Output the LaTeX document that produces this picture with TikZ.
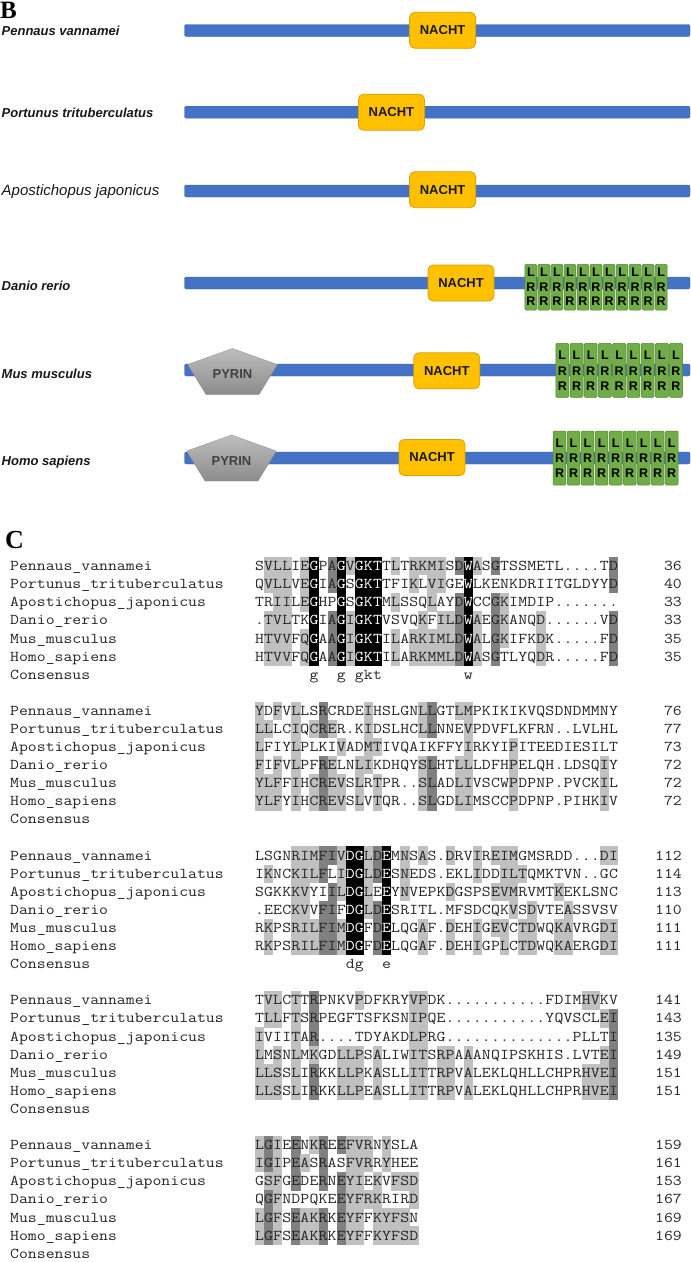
\documentclass[tikz,border=0pt]{standalone}
\usepackage{fontspec}
\usepackage{graphicx}
\newfontfamily\lsans{Liberation Sans}
\newfontfamily\lserif{Liberation Serif}
\definecolor{barblue}{HTML}{4472C4}
\definecolor{barline}{HTML}{3A62AD}
\definecolor{nachtfill}{HTML}{FFC000}
\definecolor{nachtline}{HTML}{D9A300}
\definecolor{lrrfill}{HTML}{70AD47}
\definecolor{lrrline}{HTML}{548235}
\definecolor{pyrtop}{HTML}{BEBEBE}
\definecolor{pyrbot}{HTML}{8C8C8C}
\definecolor{lgc}{HTML}{C0C0C0}
\definecolor{dgc}{HTML}{808080}
\definecolor{seqtext}{HTML}{262626}
\newcommand\seqf{\ttfamily\fontsize{15}{15}\selectfont}
\newcommand\sx[1]{\scalebox{1.152}[1]{#1}}
\newcount\shcol \newcount\blkn \newcount\rown
\def\seqrow#1#2#3#4{\blkn=#1\relax\rown=#2\relax\shcol=0\relax
  \pgfmathsetmacro\celly{566+144.75*#1+18.1*#2}%
  \cellloop#3\relax\end#4..........\relax\end}
\def\cellloop#1#2\end#3#4\end{%
  \ifx#1\relax\else
    \onecell{#1}{#3}%
    \advance\shcol by 1\relax
    \cellloop#2\end#4\end
  \fi}
\def\onecell#1#2{%
  \pgfmathsetmacro\cellx{255+9.075*\the\shcol}%
  \if#2l\fill[lgc] (\cellx,\celly-9.05) rectangle ++(9.3,18.35);\fi
  \if#2d\fill[dgc] (\cellx,\celly-9.05) rectangle ++(9.3,18.35);\fi
  \if#2k\fill[black] (\cellx,\celly-9.05) rectangle ++(9.3,18.35);%
    \node[chw] (q\the\blkn-\the\rown-\the\shcol) at (\cellx+4.54,\celly+4.6) {\sx{#1}};%
  \else
    \node[ch] (q\the\blkn-\the\rown-\the\shcol) at (\cellx+4.54,\celly+4.6) {\sx{#1}};%
  \fi}
\newcommand\blocklabels[7]{%
  \foreach \nm [count=\rr from 0] in {Pennaus\_vannamei,Portunus\_trituberculatus,Apostichopus\_japonicus,Danio\_rerio,Mus\_musculus,Homo\_sapiens,Consensus}{%
    \node[nmst] (nm#1-\rr) at (10,{566+144.75*#1+18.1*\rr+4.6}) {\sx{\nm}};}
  \foreach \v [count=\rr from 0] in {#2,#3,#4,#5,#6,#7}{%
    \node[numst] (num#1-\rr) at (682,{566+144.75*#1+18.1*\rr+4.6}) {\sx{\v}};}}
\newcommand\consch[4]{% name block col char
  \node[ch] (#1) at ({255+9.075*#3+4.54},{566+144.75*#2+18.1*6+4.6}) {\sx{#4}};}
\newcommand\lrrbox[8]{%
  \pgfmathsetmacro\lrrw{(#3-#2)/#4}%
  \foreach \i in {1,...,#4}{%
    \pgfmathsetmacro\lrrx{#2+(\i-1)*\lrrw}%
    \draw[tileshape] (\lrrx+0.6,#5) rectangle (\lrrx+\lrrw-0.6,#6);
    \node[lrrtxt] (#1a\i) at (\lrrx+\lrrw/2,#7) {L};
    \node[lrrtxt] (#1b\i) at (\lrrx+\lrrw/2,#7+#8) {R};
    \node[lrrtxt] (#1c\i) at (\lrrx+\lrrw/2,#7+2*#8) {R};
  }}
\newcommand\pyrin[3]{%
  \shadedraw[top color=pyrtop, bottom color=pyrbot, draw=pyrbot, line width=0.3pt]
    (#2,#3) -- (#2+44.8,#3+16) -- (#2+26.5,#3+46) -- (#2-26.5,#3+46) -- (#2-44.8,#3+16) -- cycle;
  \node[pyrtxt] (#1) at (#2,#3+25.6) {PYRIN};}
\tikzset{
  ch/.style={anchor=base, inner sep=0pt, outer sep=0pt, font=\seqf, text=seqtext},
  chw/.style={ch, text=white},
  nmst/.style={anchor=base west, inner sep=0pt, font=\seqf, text=seqtext},
  numst/.style={anchor=base east, inner sep=0pt, font=\seqf, text=seqtext},
  bar/.style={fill=barblue, draw=barline, line width=0.4pt, rounded corners=2pt},
  nacht/.style={draw=nachtline, fill=nachtfill, line width=0.8pt, rounded corners=5pt,
    minimum width=66pt, minimum height=36pt, inner sep=0pt,
    font=\lsans\bfseries\fontsize{13}{13}\selectfont, text=black!90},
  tileshape/.style={fill=lrrfill, draw=lrrline, line width=0.5pt, rounded corners=1.2pt},
  lrrtxt/.style={inner sep=0pt, font=\lsans\bfseries\fontsize{12.5}{12.5}\selectfont, text=black},
  spec/.style={anchor=base west, inner sep=0pt, font=\lsans\bfseries\itshape\fontsize{13}{13}\selectfont, text=black!90},
  specreg/.style={anchor=base west, inner sep=0pt, font=\lsans\itshape\fontsize{15}{15}\selectfont, text=black!90},
  pyrtxt/.style={inner sep=0pt, font=\lsans\bfseries\fontsize{13}{13}\selectfont, text=black!75},
  panel/.style={anchor=base west, inner sep=0pt, font=\lserif\bfseries}
}
\begin{document}
\begin{tikzpicture}[x=1pt,y=-1pt]
\fill[white] (0,0) rectangle (691,1262);
\useasboundingbox (0,0) rectangle (691,1262);
% ---------------- Panel B ----------------
\node[panel, font=\lserif\bfseries\fontsize{25}{25}\selectfont] (labB) at (0,18.5) {B};
\node[spec] (sp1) at (1.5,35.7) {Pennaus vannamei};
\node[spec] (sp2) at (1.5,117.2) {Portunus trituberculatus};
\node[specreg] (sp3) at (1.5,195.2) {Apostichopus japonicus};
\node[spec] (sp4) at (1.5,290.7) {Danio rerio};
\node[spec] (sp5) at (1.5,378.5) {Mus musculus};
\node[spec] (sp6) at (1.5,465.3) {Homo sapiens};
\draw[bar] (184.5,24.5) rectangle (690,36.5);
\draw[bar] (184.5,106.2) rectangle (690,118.2);
\draw[bar] (184.5,185) rectangle (690,197);
\draw[bar] (184.5,277) rectangle (690,289);
\draw[bar] (184.5,364) rectangle (690,376);
\draw[bar] (184.5,452) rectangle (690,464);
\node[nacht] (n1) at (442.6,30.3) {NACHT};
\node[nacht] (n2) at (391.4,112.2) {NACHT};
\node[nacht] (n3) at (442.6,189.7) {NACHT};
\node[nacht] (n4) at (461,283) {NACHT};
\node[nacht] (n5) at (446.8,370.8) {NACHT};
\node[nacht] (n6) at (432,457.5) {NACHT};
\pyrin{pyr5}{232.5}{348.5}
\pyrin{pyr6}{231.5}{435}
\lrrbox{dr}{524.3}{667.7}{11}{264.3}{310}{272.5}{14.2}
\lrrbox{mm}{555.2}{683.1}{9}{343.3}{397.3}{355.5}{15.2}
\lrrbox{hs}{552.5}{678.7}{9}{431}{485}{443}{15.2}
% ---------------- Panel C ----------------
\node[panel, font=\lserif\bfseries\fontsize{26}{26}\selectfont] (labC) at (5,548) {C};
% block 1
\seqrow{0}{0}{SVLLIEGPAGVGKTTLTRKMISDWASGTSSMETL....TD}{.lll.lk.dk lkkk.l.lll l.dkl.d... .........d}
\seqrow{0}{1}{QVLLVEGIAGSGKTTFIKLVIGEWLKENKDRIITGLDYYD}{.lll.lk.dk .kkk...l.l l..k...... .........d}
\seqrow{0}{2}{TRIILEGHPGSGKTMLSSQLAYDWCCGKIMDIP.......}{..ll.lk..k .kkk.l...l ..dk..dl.. ..........}
\seqrow{0}{3}{.TVLTKGIAGIGKTVSVQKFILDWAEGKANQD......VD}{.lll..k.dk lkkk....l. lldkl.dl.. .l.......d}
\seqrow{0}{4}{HTVVFQGAAGIGKTILARKIMLDWALGKIFKDK.....FD}{.lll.lk.dk lkkk.l.lll lldkl.dl.. .l.......d}
\seqrow{0}{5}{HTVVFQGAAGIGKTILARKMMLDWASGTLYQDR.....FD}{.lll.lk.dk lkkk.l.lll lldkl.d... .l.......d}
\blocklabels{0}{36}{40}{33}{33}{35}{35}
\consch{c0a}{0}{6}{g}\consch{c0b}{0}{9}{g}\consch{c0c}{0}{11}{g}\consch{c0d}{0}{12}{k}\consch{c0e}{0}{13}{t}\consch{c0f}{0}{23}{w}
% block 2
\seqrow{1}{0}{YDFVLLSRCRDEIHSLGNLLGTLMPKIKIKVQSDNDMMNY}{l.l.l..d.. ..l.....ld ..ll...... ..........}
\seqrow{1}{1}{LLLCIQCRER.KIDSLHCLLNNEVPDVFLKFRN..LVLHL}{ll..l.ldl. ..l.....ld ...l...... ..........}
\seqrow{1}{2}{LFIYLPLKIVADMTIVQAIKFFYIRKYIPITEEDIESILT}{l...l....l ..ll...... ...l....l. ..........}
\seqrow{1}{3}{FIFVLPFRELNLIKDHQYSLHTLLLDFHPELQH.LDSQIY}{l.l.l..dl. .ll.....ld ..ll....l. ........l.}
\seqrow{1}{4}{YLFFIHCREVSLRTPR..SLADLIVSCWPDPNP.PVCKIL}{lll.l.ldll .l.l....ld ..ll....l. ........l.}
\seqrow{1}{5}{YLFYIHCREVSLVTQR..SLGDLIMSCCPDPNP.PIHKIV}{lll.l.ldll .l.l....ld ..ll....l. ........l.}
\blocklabels{1}{76}{77}{73}{72}{72}{72}
% block 3
\seqrow{2}{0}{LSGNRIMFIVDGLDEMNSAS.DRVIREIMGMSRDD...DI}{....lllddl kkldk.l.l. .l..l.lll. ........ll}
\seqrow{2}{1}{IKNCKILFLIDGLDESNEDS.EKLIDDILTQMKTVN..GC}{.l..llld.l kkldk.l... ....l..lll ..........}
\seqrow{2}{2}{SGKKKVYIILDGLEEYNVEPKDGSPSEVMRVMTKEKLSNC}{....ll..dl kkl.k.l... .l....lll. ...l......}
\seqrow{2}{3}{.EECKVVFIFDGLDESRITL.MFSDCQKVSDVTEASSVSV}{....ll.dd. kkldk..... ........l. l...l.....}
\seqrow{2}{4}{RKPSRILFIMDGFDELQGAF.DEHIGEVCTDWQKAVRGDI}{.l..lllddl kk.dk...l. .l..l.ll.l l..ll...ll}
\seqrow{2}{5}{RKPSRILFIMDGFDELQGAF.DEHIGPLCTDWQKAERGDI}{.l..lllddl kk.dk...l. .l..l..l.l l..ll...ll}
\blocklabels{2}{112}{114}{113}{110}{111}{111}
\consch{c2a}{2}{10}{d}\consch{c2b}{2}{11}{g}\consch{c2c}{2}{14}{e}
% block 4
\seqrow{3}{0}{TVLCTTRPNKVPDFKRYVPDK...........FDIMHVKV}{.ll.l.d... .l.....ll. .......... ......ll..}
\seqrow{3}{1}{TLLFTSRPEGFTSFKSNIPQE...........YQVSCLEI}{.ll.l.d... .......ll. .......... ........ld}
\seqrow{3}{2}{IVIITAR....TDYAKDLPRG..............PLLTI}{l...l.d... .......ll. .......... .........d}
\seqrow{3}{3}{LMSNLMKGDLLPSALIWITSRPAAANQIPSKHIS.LVTEI}{l.l.l.l..l ll.l...ll. ll.l...... ........ld}
\seqrow{3}{4}{LLSSLIRKKLLPKASLLITTRPVALEKLQHLLCHPRHVEI}{lll.l.d..l ll.l...ll. ll.l...... ......llld}
\seqrow{3}{5}{LLSSLIRKKLLPEASLLITTRPVALEKLQHLLCHPRHVEI}{lll.l.d..l ll.l...ll. ll.l...... ......llld}
\blocklabels{3}{141}{143}{135}{149}{151}{151}
% block 5
\seqrow{4}{0}{LGIEENKREEFVRNYSLA}{ldl.d.ld.d lll.l...}
\seqrow{4}{1}{IGIPEASRASFVRRYHEE}{ldl.dl.d.. lll.l...}
\seqrow{4}{2}{GSFGEDERNEYIEKVFSD}{.ll.d..d.d ll.l.lll}
\seqrow{4}{3}{QGFNDPQKEEYFRKRIRD}{.dl......d llll...l}
\seqrow{4}{4}{LGFSEAKRKEYFFKYFSN}{ldl.dlld.d ll.llll.}
\seqrow{4}{5}{LGFSEAKRKEYFFKYFSD}{ldl.dlld.d ll.lllll}
\blocklabels{4}{159}{161}{153}{167}{169}{169}
\end{tikzpicture}
\end{document}
